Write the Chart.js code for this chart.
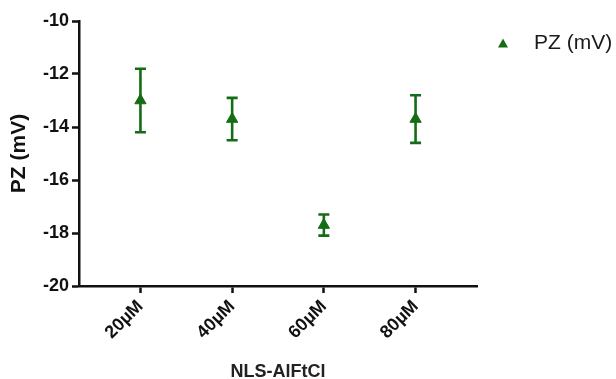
<!DOCTYPE html>
<html>
<head>
<meta charset="utf-8">
<script src="https://cdn.jsdelivr.net/npm/chart.js@4.4.1/dist/chart.umd.min.js"></script>
<style>
html,body{margin:0;padding:0;background:#fff;}
#wrap{width:616px;height:379px;position:relative;}
</style>
</head>
<body>
<div id="wrap"><canvas id="c" width="616" height="379"></canvas></div>
<script>
const categories = ['20µM', '40µM', '60µM', '80µM'];
const means = [-13.0, -13.7, -17.7, -13.7];
const errors = [1.2, 0.8, 0.4, 0.9];
const yTicks = [-20, -18, -16, -14, -12, -10];
const seriesLabel = 'PZ (mV)';
const xTitle = 'NLS-AlFtCl';
const yTitle = 'PZ (mV)';

const GREEN = '#146c14';
const FONT = "Arial, 'Liberation Sans', sans-serif";

const points = categories.map((c, i) => ({x: i + 1, y: means[i]}));

// legend marker: small filled triangle
const legendMarker = document.createElement('canvas');
legendMarker.width = 12; legendMarker.height = 12;
(function () {
  const g = legendMarker.getContext('2d');
  g.fillStyle = GREEN;
  g.beginPath();
  g.moveTo(6, 1.5); g.lineTo(11, 10.5); g.lineTo(1, 10.5); g.closePath();
  g.fill();
})();

const errorBarPlugin = {
  id: 'errorBars',
  beforeDatasetsDraw(chart) {
    const ctx = chart.ctx;
    const xs = chart.scales.x, ys = chart.scales.y;
    ctx.save();
    ctx.strokeStyle = GREEN;
    ctx.lineWidth = 2.6;
    ctx.lineCap = 'butt';
    points.forEach((p, i) => {
      const px = xs.getPixelForValue(p.x);
      const top = ys.getPixelForValue(means[i] + errors[i]);
      const bot = ys.getPixelForValue(means[i] - errors[i]);
      const cap = 5.5;
      ctx.beginPath();
      ctx.moveTo(px, top); ctx.lineTo(px, bot);
      ctx.moveTo(px - cap, top); ctx.lineTo(px + cap, top);
      ctx.moveTo(px - cap, bot); ctx.lineTo(px + cap, bot);
      ctx.stroke();
    });
    ctx.restore();
  }
};

new Chart(document.getElementById('c'), {
  type: 'scatter',
  data: {
    datasets: [{
      label: seriesLabel,
      data: points,
      pointStyle: 'triangle',
      pointRadius: 6.5,
      pointHoverRadius: 6.5,
      backgroundColor: GREEN,
      borderColor: GREEN,
      borderWidth: 1,
      showLine: false
    }]
  },
  options: {
    responsive: false,
    animation: false,
    devicePixelRatio: 1,
    layout: {padding: {top: 21, left: 0, right: 0, bottom: 0}},
    plugins: {
      tooltip: {enabled: false},
      legend: {
        position: 'right',
        align: 'start',
        maxWidth: 139,
        title: {display: true, text: '', padding: 0, font: {size: 6, lineHeight: 1}},
        labels: {
          usePointStyle: true,
          boxHeight: 10,
          boxWidth: 41,
          pointStyleWidth: 41,
          padding: 5.5,
          color: '#1a1a1a',
          font: {family: FONT, size: 21},
          generateLabels(chart) {
            return [{
              text: seriesLabel,
              pointStyle: legendMarker,
              fillStyle: GREEN,
              strokeStyle: GREEN,
              fontColor: '#1a1a1a',
              lineWidth: 0,
              hidden: false,
              datasetIndex: 0
            }];
          }
        }
      }
    },
    scales: {
      x: {
        type: 'linear',
        min: 0.33,
        max: 4.67,
        afterBuildTicks(scale) { scale.ticks = categories.map((c, i) => ({value: i + 1})); },
        afterFit(scale) { scale.height = 93; },
        ticks: {
          autoSkip: false,
          maxRotation: 45,
          minRotation: 45,
          color: '#111',
          padding: 3,
          font: {family: FONT, size: 18, weight: 'bold'},
          callback(v) { return categories[Math.round(v) - 1] || ''; }
        },
        grid: {display: true, drawOnChartArea: false, drawTicks: true, tickLength: 7, tickColor: '#111', tickWidth: 2.5},
        border: {display: true, color: '#111', width: 2.5},
        title: {display: true, text: xTitle, color: '#222', font: {family: FONT, size: 18, weight: 'bold', lineHeight: 1}, padding: {top: 0, bottom: -2}}
      },
      y: {
        min: -20,
        max: -10,
        afterBuildTicks(scale) { scale.ticks = yTicks.map(v => ({value: v})); },
        afterFit(scale) { scale.width = 79; },
        ticks: {
          color: '#111',
          padding: 3,
          font: {family: FONT, size: 18, weight: 'bold'}
        },
        grid: {display: true, drawOnChartArea: false, drawTicks: true, tickLength: 7, tickColor: '#111', tickWidth: 2.5},
        border: {display: true, color: '#111', width: 2.5},
        title: {display: true, text: yTitle, color: '#111', font: {family: FONT, size: 21, weight: 'bold', lineHeight: 1.2}, padding: {top: 7, bottom: 0}}
      }
    }
  },
  plugins: [errorBarPlugin]
});
</script>
</body>
</html>
